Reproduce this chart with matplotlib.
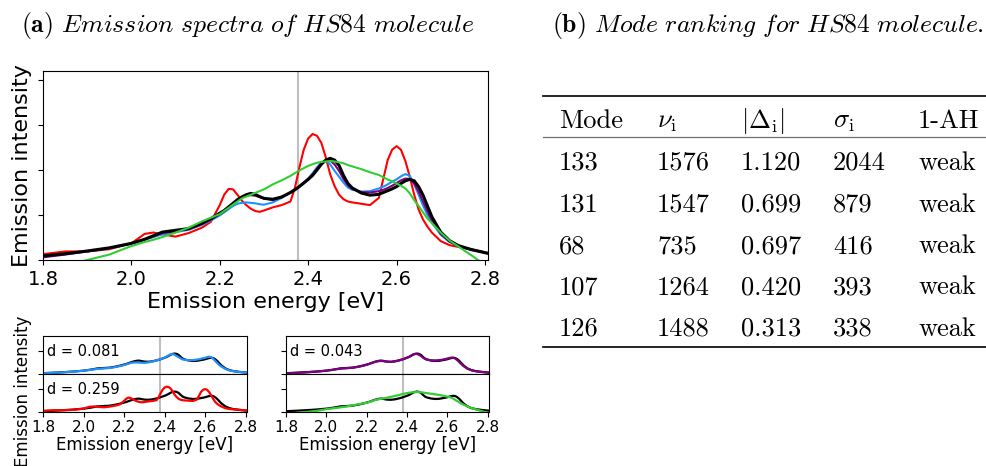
import matplotlib
matplotlib.use("Agg")
import matplotlib.pyplot as plt
from matplotlib.lines import Line2D
import matplotlib.transforms as mtransforms

plt.rcParams["mathtext.fontset"] = "cm"

W, H = 987, 466

# ── spectra (energy grid in eV, intensity in arb. units) ──
E = [1.80, 1.85, 1.90, 1.95, 2.00, 2.03, 2.05, 2.07, 2.10, 2.13, 2.16, 2.18,
     2.20, 2.21, 2.22, 2.23, 2.24, 2.25, 2.26, 2.27, 2.28, 2.29, 2.30,
     2.32, 2.34, 2.36, 2.37, 2.38, 2.39, 2.40, 2.41, 2.42, 2.43, 2.44, 2.45,
     2.46, 2.47, 2.48, 2.49, 2.50, 2.52, 2.54, 2.56, 2.57, 2.58, 2.59, 2.60,
     2.61, 2.62, 2.63, 2.64, 2.65, 2.66, 2.67, 2.68, 2.70, 2.72, 2.74, 2.77, 2.81]

spec_ref = [0.09, 0.14, 0.20, 0.27, 0.37, 0.46, 0.54, 0.62, 0.66, 0.70, 0.82, 0.92,
            1.04, 1.10, 1.18, 1.26, 1.34, 1.40, 1.45, 1.48, 1.46, 1.41, 1.37,
            1.35, 1.40, 1.50, 1.56, 1.63, 1.71, 1.79, 1.88, 2.00, 2.13, 2.22, 2.26,
            2.22, 2.10, 1.88, 1.70, 1.60, 1.49, 1.44, 1.46, 1.50, 1.54, 1.58, 1.63,
            1.70, 1.76, 1.79, 1.76, 1.63, 1.44, 1.20, 0.96, 0.62, 0.43, 0.32, 0.23, 0.14]

spec_blue = [0.08, 0.13, 0.19, 0.26, 0.36, 0.45, 0.51, 0.57, 0.62, 0.67, 0.78, 0.88,
             0.99, 1.06, 1.13, 1.20, 1.25, 1.27, 1.28, 1.27, 1.26, 1.24, 1.23,
             1.28, 1.38, 1.50, 1.57, 1.64, 1.72, 1.81, 1.93, 2.06, 2.17, 2.22, 2.12,
             1.98, 1.85, 1.72, 1.61, 1.56, 1.52, 1.53, 1.59, 1.63, 1.68, 1.74, 1.79,
             1.86, 1.91, 1.87, 1.68, 1.45, 1.21, 1.00, 0.83, 0.56, 0.40, 0.31, 0.22, 0.15]

spec_red = [0.13, 0.19, 0.19, 0.24, 0.37, 0.58, 0.61, 0.57, 0.52, 0.60, 0.72, 0.85,
            1.22, 1.45, 1.58, 1.57, 1.45, 1.32, 1.22, 1.14, 1.09, 1.07, 1.10,
            1.17, 1.22, 1.30, 1.60, 2.05, 2.45, 2.70, 2.80, 2.76, 2.60, 2.28, 1.90,
            1.64, 1.45, 1.35, 1.30, 1.28, 1.25, 1.22, 1.38, 1.80, 2.22, 2.45, 2.53,
            2.45, 2.20, 1.85, 1.45, 1.12, 0.90, 0.74, 0.61, 0.42, 0.33, 0.29, 0.24, 0.15]

spec_purple = [0.06, 0.12, 0.19, 0.26, 0.37, 0.46, 0.53, 0.60, 0.64, 0.69, 0.80, 0.90,
               1.02, 1.09, 1.17, 1.25, 1.33, 1.39, 1.43, 1.44, 1.43, 1.40, 1.37,
               1.33, 1.40, 1.50, 1.57, 1.64, 1.72, 1.80, 1.90, 2.03, 2.15, 2.22, 2.21,
               2.12, 1.98, 1.80, 1.66, 1.58, 1.51, 1.50, 1.53, 1.56, 1.60, 1.65, 1.71,
               1.77, 1.81, 1.80, 1.70, 1.52, 1.30, 1.08, 0.88, 0.58, 0.41, 0.31, 0.23, 0.14]

spec_green = [-0.28, -0.14, 0.00, 0.12, 0.31, 0.40, 0.45, 0.51, 0.61, 0.72, 0.86, 0.94,
              1.02, 1.09, 1.16, 1.23, 1.30, 1.37, 1.41, 1.45, 1.49, 1.53, 1.57,
              1.68, 1.77, 1.87, 1.93, 1.99, 2.04, 2.09, 2.13, 2.16, 2.18, 2.19, 2.20,
              2.19, 2.17, 2.15, 2.11, 2.08, 2.02, 1.95, 1.89, 1.84, 1.79, 1.75, 1.70,
              1.65, 1.59, 1.48, 1.33, 1.20, 1.06, 0.92, 0.82, 0.61, 0.43, 0.30, 0.10, -0.18]

E_MARK = 2.378
d_blue, d_red, d_purple = 0.081, 0.259, 0.043

# ── mode table ──
modes = ["133", "131", "68", "107", "126"]
nu = ["1576", "1547", "735", "1264", "1488"]
delta = ["1.120", "0.699", "0.697", "0.420", "0.313"]
sigma = ["2044", "879", "416", "393", "338"]
anh = ["weak", "weak", "weak", "weak", "weak"]

XLIM = (1.8, 2.807)
YLIM = (0, 4.2)


def box(x0, y0, x1, y1):
    # pixel box (origin top-left) -> figure fraction rect
    return [x0 / W, 1 - y1 / H, (x1 - x0) / W, (y1 - y0) / H]


fig = plt.figure(figsize=(W / 100, H / 100), dpi=100)

# ── main panel ──
ax = fig.add_axes(box(43, 71, 488, 260))
ax.axvline(E_MARK, color="0.75", lw=1.5, zorder=0)
ax.plot(E, spec_red, color="red", lw=1.5)
ax.plot(E, spec_blue, color="dodgerblue", lw=1.5)
ax.plot(E, spec_purple, color="purple", lw=1.5)
ax.plot(E, spec_ref, color="black", lw=2.2)
ax.plot(E, spec_green, color="limegreen", lw=1.5)
ax.set_xlim(*XLIM)
ax.set_ylim(*YLIM)
ax.set_xticks([1.8, 2.0, 2.2, 2.4, 2.6, 2.8])
ax.set_yticks([0, 1, 2, 3, 4])
ax.set_yticklabels([])
ax.tick_params(labelsize=14)
ax.set_xlabel("Emission energy [eV]", fontsize=16, labelpad=2)
ax.set_ylabel("Emission intensity", fontsize=16, labelpad=1)

# ── small comparison panels ──
panels = [
    ((43, 336, 247, 374), spec_blue, "dodgerblue", d_blue, False),
    ((43, 374, 247, 412), spec_red, "red", d_red, True),
    ((286, 336, 489, 374), spec_purple, "purple", d_purple, False),
    ((286, 374, 489, 412), spec_green, "limegreen", None, True),
]
for rect, spec, col, d, bottom in panels:
    a = fig.add_axes(box(*rect))
    a.axvline(E_MARK, color="0.75", lw=1.5, zorder=0)
    a.plot(E, spec_ref, color="black", lw=1.6)
    a.plot(E, spec, color=col, lw=1.6)
    a.set_xlim(*XLIM)
    a.set_ylim(*YLIM)
    a.set_yticks([0, 2.5])
    a.set_yticklabels([])
    a.set_xticks([1.8, 2.0, 2.2, 2.4, 2.6, 2.8])
    a.tick_params(labelsize=11, pad=2)
    if bottom:
        a.set_xlabel("Emission energy [eV]", fontsize=12, labelpad=1)
    else:
        a.set_xticklabels([])
    if d is not None:
        tr = mtransforms.blended_transform_factory(a.transAxes, a.transData)
        a.text(0.018, 2.5, f"d = {d:.3f}", transform=tr, fontsize=10.5,
               va="center", ha="left")

fig.text(23 / W, 1 - 391 / H, "Emission intensity", rotation=90,
         fontsize=12, ha="center", va="center")

# ── captions ──
fig.text(248 / W, 1 - 32 / H,
         r"$\mathbf{(a)}$ $\mathit{Emission\ spectra\ of\ HS84\ molecule}$",
         fontsize=18.5, ha="center", va="baseline")
fig.text(768 / W, 1 - 32 / H,
         r"$\mathbf{(b)}$ $\mathit{Mode\ ranking\ for\ HS84\ molecule.}$",
         fontsize=18.5, ha="center", va="baseline")

# ── table ──
col_x = [559, 657, 741, 833, 918]
heads = ["Mode", r"$\nu_{\mathrm{i}}$", r"$|\Delta_{\mathrm{i}}|$",
         r"$\sigma_{\mathrm{i}}$", "1-AH"]
for x, h in zip(col_x, heads):
    fam = "cmr10" if not h.startswith("$") else None
    fig.text(x / W, 1 - 128 / H, h, fontsize=19, family=fam,
             ha="left", va="baseline")

for i, row in enumerate(zip(modes, nu, delta, sigma, anh)):
    yb = 170 + 41.5 * i
    for x, cell in zip(col_x, row):
        fig.text(x / W, 1 - yb / H, cell, fontsize=19, family="cmr10",
                 ha="left", va="baseline")

for y, c, lw in [(96, "black", 1.2), (137, "0.45", 0.9), (347, "black", 1.2)]:
    fig.add_artist(Line2D([543 / W, 1.0], [1 - y / H, 1 - y / H], color=c,
                          lw=lw, transform=fig.transFigure))

fig.savefig("out.png", dpi=100)
